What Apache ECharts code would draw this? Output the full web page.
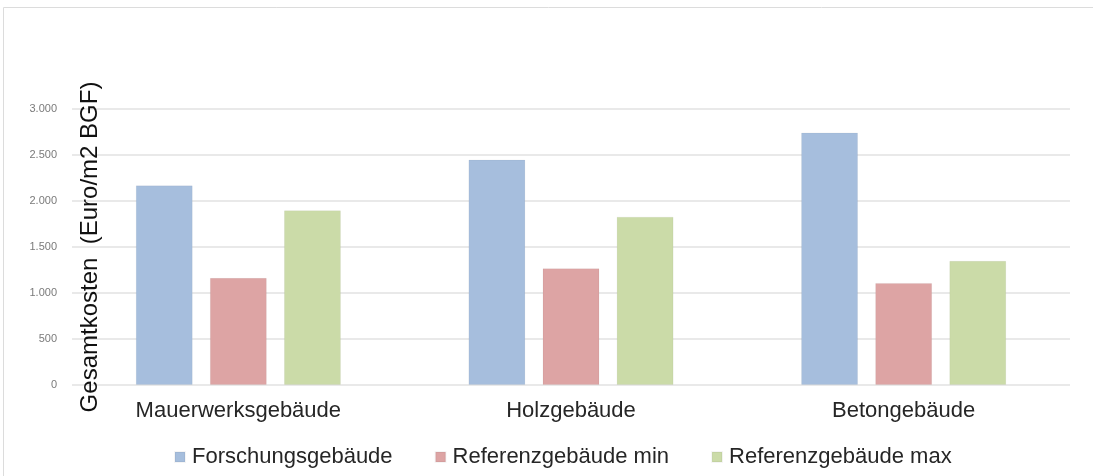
<!DOCTYPE html>
<html><head><meta charset="utf-8">
<script src="https://cdn.jsdelivr.net/npm/echarts@6/dist/echarts.min.js"></script>
<style>html,body{margin:0;padding:0;background:#fff}#c{width:1093px;height:476px}</style>
</head><body><div id="c"></div>
<script>
const categories = ['Mauerwerksgebäude', 'Holzgebäude', 'Betongebäude'];
const seriesNames = ['Forschungsgebäude', 'Referenzgebäude min', 'Referenzgebäude max'];
const forschung = [2170, 2450, 2745];
const refMin = [1165, 1270, 1110];
const refMax = [1900, 1830, 1350];
const yTicks = [0, 500, 1000, 1500, 2000, 2500, 3000];
const colors = ['#a6bedd', '#dda4a4', '#cbdba8'];

const chart = echarts.init(document.getElementById('c'));
const fmt = v => String(v).replace(/\B(?=(\d{3})+(?!\d))/g, '.');
const data = [forschung, refMin, refMax];
chart.setOption({
  animation: false,
  graphic: [{type:'rect', shape:{x:3.5,y:7.5,width:1100,height:480}, style:{fill:'none',stroke:'#dcdcdc',lineWidth:1}}],
  grid: {left: 72, right: 23, top: 109, bottom: 91},
  legend: {
    top: 441, left: 169, itemWidth: 10, itemHeight: 10, itemGap: 42,
    icon: 'rect',
    textStyle: {fontFamily: 'Liberation Sans', fontSize: 22, color: '#262626', padding: [0,0,0,2]},
    data: seriesNames
  },
  xAxis: {
    type: 'category', data: categories,
    axisLine: {show: false}, axisTick: {show: false},
    axisLabel: {fontFamily: 'Liberation Sans', fontSize: 22, color: '#262626', margin: 15}
  },
  yAxis: {
    type: 'value', min: yTicks[0], max: yTicks[yTicks.length-1], interval: 500,
    name: 'Gesamtkosten  (Euro/m2 BGF)', nameLocation: 'middle', nameGap: -18, nameMoveOverlap: false,
    nameTextStyle: {fontFamily: 'Liberation Sans', fontSize: 24, color: '#111', verticalAlign: 'middle'},
    axisLine: {show: false}, axisTick: {show: false},
    axisLabel: {formatter: fmt, fontFamily: 'Liberation Sans', fontSize: 11, color: '#7a7a7a', margin: 15},
    splitLine: {lineStyle: {color: '#e2e2e2', width: 1.5}}
  },
  series: seriesNames.map((n, i) => ({
    name: n, type: 'bar', data: data[i], barWidth: 57, barGap: '30%',
    itemStyle: {color: colors[i], borderColor: 'rgba(0,0,0,0.04)', borderWidth: 1}
  }))
});
</script></body></html>
